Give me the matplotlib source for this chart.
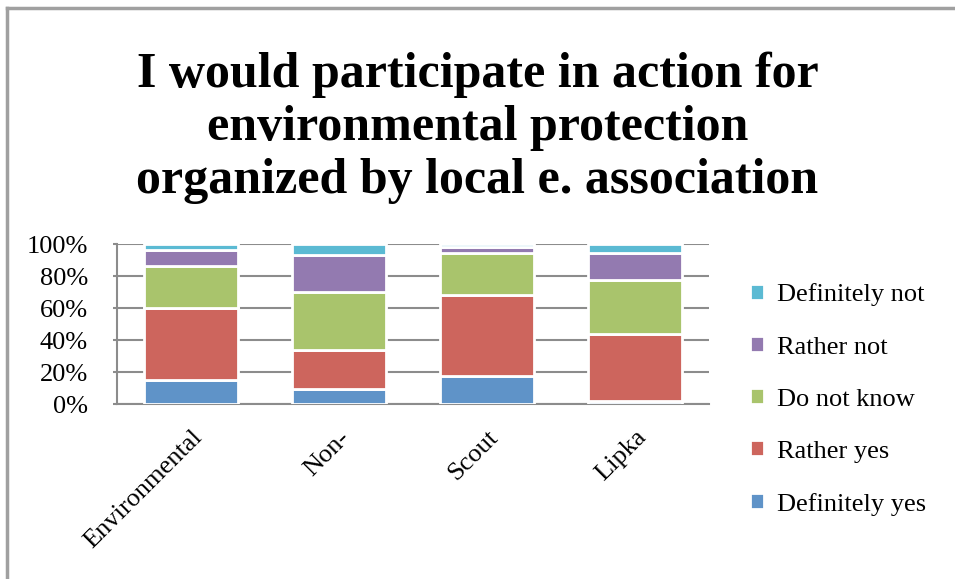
import numpy as np
import matplotlib.pyplot as plt
from matplotlib.lines import Line2D

# share of answers per group (%)
groups = ["Environmental", "Non-", "Scout", "Lipka"]
definitely_yes = [15.2, 9.5, 17.9, 2.1]
rather_yes = [45.2, 24.4, 50.1, 42.1]
do_not_know = [26.3, 36.0, 26.7, 33.7]
rather_not = [9.7, 23.4, 3.6, 16.4]
definitely_not = [3.6, 6.7, 1.7, 5.7]

series = [
    ("Definitely yes", definitely_yes, "#5f93c8"),
    ("Rather yes", rather_yes, "#cd655d"),
    ("Do not know", do_not_know, "#a9c46c"),
    ("Rather not", rather_not, "#937ab0"),
    ("Definitely not", definitely_not, "#5bbad3"),
]

plt.rcParams['font.family'] = ['Liberation Serif', 'DejaVu Serif']

fig = plt.figure(figsize=(9.55, 5.79), dpi=100)
ax = fig.add_axes([0.1225, 0.302, 0.62, 0.276])

x = np.arange(len(groups))
bottom = np.zeros(len(groups))
handles = []
for name, vals, col in series:
    b = ax.bar(x, vals, width=0.64, bottom=bottom, color=col,
               edgecolor="white", linewidth=2, label=name, zorder=3)
    bottom += np.array(vals)
    handles.append(b)

ax.set_xlim(-0.5, len(groups) - 0.5)
ax.set_ylim(0, 100)
ax.set_yticks(np.arange(0, 101, 20))
ax.set_yticklabels([f"{v}%" for v in range(0, 101, 20)], fontsize=19)
ax.yaxis.grid(True, color="#8c8c8c", linewidth=1.5, zorder=0)
ax.tick_params(axis="y", length=3, color="#8c8c8c", width=1.5, pad=18)
ax.tick_params(axis="x", length=0, pad=16)
ax.set_xticks(x)
ax.set_xticklabels(groups, rotation=45, ha="right", rotation_mode="anchor",
                   fontsize=19)
for s in ["top", "right"]:
    ax.spines[s].set_visible(False)
for s in ["left", "bottom"]:
    ax.spines[s].set_color("#8c8c8c")
    ax.spines[s].set_linewidth(1.5)

leg = fig.legend(handles[::-1], [s[0] for s in series][::-1],
                 loc="center left", bbox_to_anchor=(0.76, 0.31),
                 frameon=False, fontsize=19, handlelength=0.55,
                 handleheight=0.55, handletextpad=0.5, labelspacing=1.13)

fig.text(0.5, 0.78,
         "I would participate in action for\nenvironmental protection\norganized by local e. association",
         ha="center", va="center", fontsize=36, fontweight="bold",
         linespacing=1.2)

# chart frame
fig.add_artist(Line2D([7 / 955, 7 / 955], [0, 1 - 8 / 579], color="#a0a0a0", lw=2.5))
fig.add_artist(Line2D([7 / 955, 1], [1 - 8 / 579, 1 - 8 / 579], color="#a0a0a0", lw=2.5))

fig.savefig("out.png", dpi=100)
